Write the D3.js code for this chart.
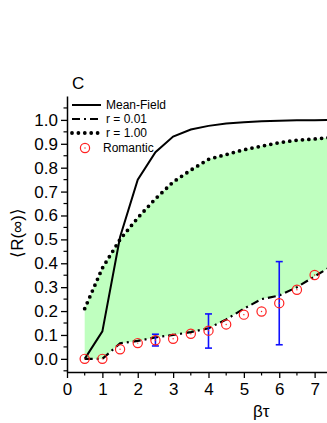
<!DOCTYPE html>
<html><head><meta charset="utf-8">
<script src="https://cdn.jsdelivr.net/npm/d3@7"></script>
<style>body{margin:0;background:#fff}svg{display:block}text{font-family:Arial,"Liberation Sans",sans-serif}</style>
</head><body><svg id="c" width="327" height="423"></svg>
<script>
const betaTau = [0.5,1.0,1.5,2.0,2.5,3.0,3.5,4.0,4.5,5.0,5.5,6.0,6.5,7.0,7.5];
const meanField = [0.0,0.115,0.51,0.75,0.865,0.93,0.96,0.975,0.985,0.99,0.994,0.996,0.998,0.999,1.0];
const r001 = [0.0,0.0,0.065,0.075,0.09,0.10,0.112,0.128,0.165,0.21,0.25,0.265,0.30,0.345,0.39];
const r100 = [0.21,0.38,0.50,0.59,0.67,0.74,0.79,0.835,0.855,0.875,0.89,0.905,0.915,0.92,0.927];
const romX = [0.5,1.0,1.5,2.0,2.5,3.0,3.5,4.0,4.5,5.0,5.5,6.0,6.5,7.0];
const romY = [0.0,0.0,0.04,0.066,0.078,0.084,0.105,0.118,0.144,0.185,0.198,0.233,0.289,0.351];
const errX = [2.5,4.0,6.0];
const errLo = [0.054,0.045,0.059];
const errHi = [0.103,0.188,0.407];
const xTicks = [0,1,2,3,4,5,6,7];
const yTicks = [0.0,0.1,0.2,0.3,0.4,0.5,0.6,0.7,0.8,0.9,1.0];
const legendLabels = ["Mean-Field","r = 0.01","r = 1.00","Romantic"];

const svg = d3.select("#c");
const x = d3.scaleLinear().domain([0,7.35]).range([67,327]);
const y = d3.scaleLinear().domain([-0.055,1.1]).range([372,96]);

svg.append("clipPath").attr("id","clip").append("rect")
  .attr("x",67).attr("y",90).attr("width",260).attr("height",282);
const g = svg.append("g").attr("clip-path","url(#clip)");

const pts = (ys)=>betaTau.map((b,i)=>[b,ys[i]]);
const area = d3.area().x(d=>x(d[0])).y0(d=>y(d[1])).y1(d=>y(d[2]));
g.append("path").datum(betaTau.map((b,i)=>[b,r001[i],r100[i]]))
  .attr("d",area).attr("fill","#bfffbf");

const line = d3.line().x(d=>x(d[0])).y(d=>y(d[1]));
g.append("path").datum(pts(meanField)).attr("d",line)
  .attr("fill","none").attr("stroke","#000").attr("stroke-width",2);
g.append("path").datum(pts(r001)).attr("d",line)
  .attr("fill","none").attr("stroke","#000").attr("stroke-width",2.2)
  .attr("stroke-dasharray","8,4,2,4");
g.append("path").datum(pts(r100)).attr("d",line)
  .attr("fill","none").attr("stroke","#000").attr("stroke-width",3.8)
  .attr("stroke-linecap","round").attr("stroke-dasharray","0,6.4");

// error bars
errX.forEach((e,i)=>{
  const ge = g.append("g").attr("stroke","#1010ff").attr("stroke-width",1.6);
  ge.append("line").attr("x1",x(e)).attr("x2",x(e)).attr("y1",y(errLo[i])).attr("y2",y(errHi[i]));
  [errLo[i],errHi[i]].forEach(v=>ge.append("line").attr("x1",x(e)-3.5).attr("x2",x(e)+3.5).attr("y1",y(v)).attr("y2",y(v)));
});

// romantic markers
romX.forEach((b,i)=>{
  g.append("circle").attr("cx",x(b)).attr("cy",y(romY[i])).attr("r",4.6)
    .attr("fill","none").attr("stroke","#ff2020").attr("stroke-width",1.2);
  g.append("circle").attr("cx",x(b)).attr("cy",y(romY[i])).attr("r",0.7).attr("fill","#ff2020");
});

// axes
const xAxis = d3.axisBottom(x).tickValues(xTicks).tickFormat(d3.format("d")).tickSize(6).tickSizeOuter(0);
const xg = svg.append("g").attr("transform","translate(0,372)").call(xAxis);
xg.select(".domain").attr("stroke-width",1.5);
xg.selectAll(".tick line").attr("stroke-width",1.3);
xg.selectAll("text").attr("font-size",17).attr("dy","0.82em").attr("fill","#000");
const xMinor = d3.range(0.5,7.4,1);
xg.selectAll(".minor").data(xMinor).enter().append("line")
  .attr("x1",d=>x(d)).attr("x2",d=>x(d)).attr("y1",0).attr("y2",3.5).attr("stroke","#000").attr("stroke-width",1.2);

const yAxis = d3.axisLeft(y).tickValues(yTicks).tickFormat(d3.format(".1f")).tickSize(6).tickSizeOuter(0);
const yg = svg.append("g").attr("transform","translate(67,0)").call(yAxis);
yg.select(".domain").attr("stroke-width",1.5);
yg.selectAll(".tick line").attr("stroke-width",1.3);
yg.selectAll("text").attr("font-size",17).attr("fill","#000").attr("x",-9);
const yMinor = [-0.05,0.05,0.15,0.25,0.35,0.45,0.55,0.65,0.75,0.85,0.95,1.05];
yg.selectAll(".minor").data(yMinor).enter().append("line")
  .attr("x1",0).attr("x2",-3.5).attr("y1",d=>y(d)).attr("y2",d=>y(d)).attr("stroke","#000").attr("stroke-width",1.2);

// labels
svg.append("text").attr("x",72).attr("y",89).attr("font-size",17).text("C");
svg.append("text").attr("transform","translate(23,233) rotate(-90)").attr("text-anchor","middle")
  .attr("font-size",17).text("\u27E8R(\u221E)\u27E9");
svg.append("text").attr("x",253).attr("y",417).attr("font-size",17).text("\u03B2\u03C4");

// legend
const ly = [105,119,133,148];
const lg = svg.append("g");
lg.append("line").attr("x1",72).attr("x2",101).attr("y1",ly[0]).attr("y2",ly[0]).attr("stroke","#000").attr("stroke-width",2);
lg.append("line").attr("x1",72).attr("x2",101).attr("y1",ly[1]).attr("y2",ly[1]).attr("stroke","#000").attr("stroke-width",2.2).attr("stroke-dasharray","8,4,2,4");
lg.append("line").attr("x1",72).attr("x2",101).attr("y1",ly[2]).attr("y2",ly[2]).attr("stroke","#000").attr("stroke-width",3.8).attr("stroke-linecap","round").attr("stroke-dasharray","0,6.4");
lg.append("circle").attr("cx",85).attr("cy",ly[3]).attr("r",4.6).attr("fill","none").attr("stroke","#ff2020").attr("stroke-width",1.2);
lg.append("circle").attr("cx",85).attr("cy",ly[3]).attr("r",0.7).attr("fill","#ff2020");
legendLabels.forEach((t,i)=>lg.append("text").attr("x",i==3?103:106).attr("y",ly[i]+4).attr("font-size",12).text(t));
</script></body></html>
